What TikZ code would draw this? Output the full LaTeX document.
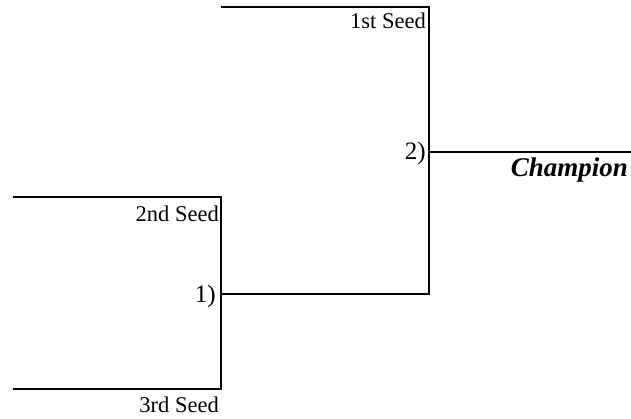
\documentclass[tikz,border=0pt]{standalone}
\usepackage{fontspec}
\setmainfont{Liberation Serif}
\begin{document}
\begin{tikzpicture}[x=1pt,y=-1pt,
  bline/.style={line width=2.4pt,line cap=rect},
  seedlbl/.style={anchor=base east,inner sep=0pt,font=\fontsize{22.5}{26}\selectfont},
  gamelbl/.style={anchor=base east,inner sep=0pt,font=\fontsize{25}{29}\selectfont},
  champlbl/.style={anchor=base east,inner sep=0pt,font=\fontsize{27}{31}\selectfont\bfseries\itshape}]
\useasboundingbox (0,0) rectangle (631,419);
% coordinates
\coordinate (s1a) at (222,7);
\coordinate (s1b) at (429,7);
\coordinate (g2b) at (429,294);
\coordinate (g2) at (429,152);
\coordinate (ch) at (631,152);
\coordinate (s2a) at (14,197);
\coordinate (s2b) at (221,197);
\coordinate (s3a) at (14,389);
\coordinate (s3b) at (221,389);
\coordinate (g1) at (221,294);
% lines
\draw[bline] (s1a) -- (s1b) -- (g2b);
\draw[bline] (g2) -- (ch);
\draw[bline] (s2a) -- (s2b) -- (s3b) -- (s3a);
\draw[bline] (g1) -- (g2b);
% labels
\node[seedlbl] (l1) at (426,29) {1st Seed};
\node[seedlbl] (l2) at (219,222) {2nd Seed};
\node[seedlbl] (l3) at (219,412) {3rd Seed};
\node[gamelbl] (n1) at (216,302) {1)};
\node[gamelbl] (n2) at (426,160) {2)};
\node[champlbl] (c) at (628,177) {Champion};
\end{tikzpicture}
\end{document}
